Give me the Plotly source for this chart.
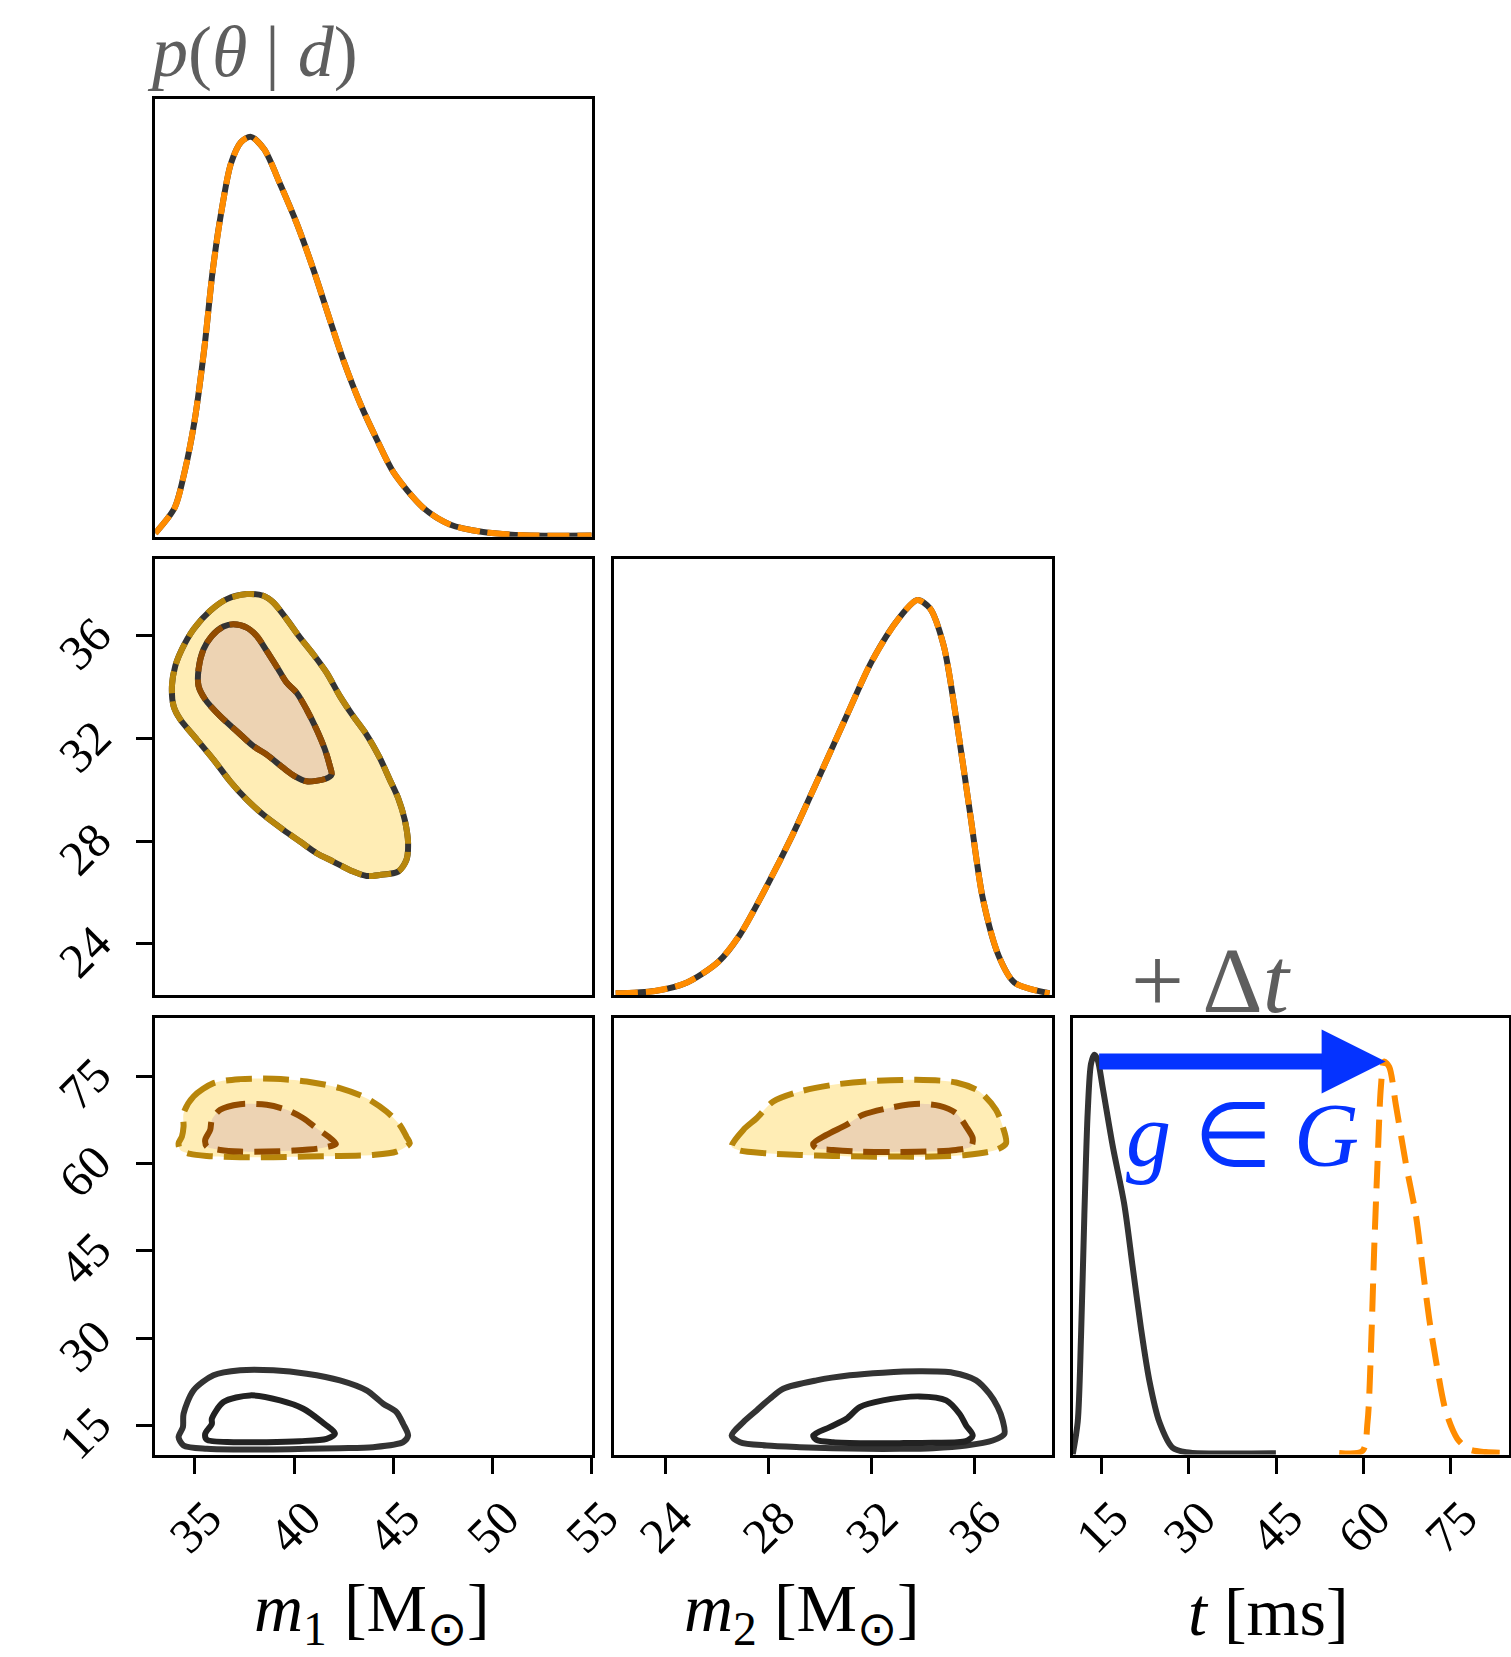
import plotly.graph_objects as go

# ---------------- data ----------------
m1_range = [33, 55]
m2_range = [22, 39]
t_range = [10, 85]
m1_ticks = [35, 40, 45, 50, 55]
m2_ticks = [24, 28, 32, 36]
t_ticks = [15, 30, 45, 60, 75]

# 1D marginal of m1 (original and transformed coincide)
m1_grid = [33.0, 33.97, 34.47, 34.97, 35.48, 35.89, 36.31, 36.81, 37.32, 37.82, 38.49, 39.32,
           40.16, 41.00, 41.83, 42.50, 43.34, 44.18, 45.01, 46.52, 47.85, 49.53, 51.54, 55.0]
m1_density = [0.009, 0.072, 0.161, 0.287, 0.475, 0.664, 0.807, 0.933, 0.987, 1.0, 0.969, 0.879,
              0.780, 0.664, 0.538, 0.439, 0.332, 0.242, 0.161, 0.072, 0.031, 0.012, 0.004, 0.003]

# 1D marginal of m2
m2_grid = [22.08, 23.60, 24.83, 26.07, 26.89, 27.91, 28.94, 29.97, 30.99, 32.02, 33.05, 33.79,
           34.28, 34.81, 35.30, 35.84, 36.33, 36.95, 37.56, 38.92]
m2_density = [0.005, 0.011, 0.032, 0.085, 0.152, 0.272, 0.405, 0.552, 0.699, 0.845, 0.952, 1.0,
              0.979, 0.885, 0.699, 0.459, 0.245, 0.099, 0.032, 0.005]

# 1D marginal of t: original (black) and shifted (orange)
t_grid_orig = [10.02, 10.88, 11.45, 12.02, 12.60, 13.17, 13.74, 14.31, 15.17, 16.89, 18.89, 20.32,
               21.76, 23.19, 24.90, 27.19, 29.48, 44.94]
t_density_orig = [0.0, 0.082, 0.297, 0.599, 0.858, 0.978, 1.0, 0.987, 0.918, 0.772, 0.625, 0.470,
                  0.315, 0.185, 0.082, 0.017, 0.006, 0.003]
t_grid_shift = [55.82, 59.83, 60.69, 61.26, 61.83, 62.40, 62.98, 63.55, 64.41, 65.55, 67.27, 68.99,
                70.13, 71.27, 72.42, 74.14, 76.14, 78.15, 81.01, 84.73]
t_density_shift = [0.004, 0.009, 0.082, 0.254, 0.513, 0.728, 0.918, 0.983, 0.970, 0.875, 0.728, 0.599,
                   0.470, 0.341, 0.237, 0.108, 0.039, 0.013, 0.006, 0.004]

# group action arrow (t from, t to, density level)
arrow_t_from = 14.3
arrow_t_to = 63.8
arrow_level = 0.983

# 2D credible contours: m1 vs m2 (original and transformed coincide)
m1m2_outer_m1 = [37.611, 38.450, 38.953, 39.623, 40.294, 40.965, 41.636, 42.306, 42.977, 43.648, 44.318,
                 44.821, 45.241, 45.576, 45.744, 45.660, 45.241, 44.318, 43.648, 42.977, 41.971, 41.132,
                 40.294, 39.456, 38.450, 37.611, 36.773, 35.934, 35.096, 34.258, 33.922, 33.838, 34.006,
                 34.341, 34.928, 35.767, 36.605]
m1m2_outer_m2 = [37.632, 37.567, 37.306, 36.655, 35.939, 35.287, 34.571, 33.659, 32.877, 32.161, 31.249,
                 30.402, 29.686, 28.839, 27.927, 27.276, 26.820, 26.689, 26.650, 26.820, 27.211, 27.536,
                 27.992, 28.448, 29.034, 29.621, 30.337, 31.184, 31.965, 32.747, 33.268, 34.050, 34.831,
                 35.483, 36.264, 36.981, 37.437]
m1m2_inner_m1 = [36.941, 37.611, 38.114, 38.617, 39.204, 39.623, 40.126, 40.629, 41.132, 41.552, 41.803,
                 41.887, 41.552, 40.629, 40.043, 39.456, 38.617, 37.947, 37.108, 36.270, 35.515, 35.180,
                 35.180, 35.431, 35.850, 36.437]
m1m2_inner_m2 = [36.460, 36.329, 36.004, 35.417, 34.701, 34.180, 33.789, 33.138, 32.356, 31.575, 30.923,
                 30.597, 30.428, 30.337, 30.532, 30.858, 31.379, 31.705, 32.291, 32.877, 33.529, 34.050,
                 34.701, 35.483, 36.004, 36.369]

# m1 vs t: shifted (gold, dashed) and original (black)
m1t_shift_outer_m1 = [34.425, 34.928, 35.934, 37.276, 38.953, 40.629, 42.306, 43.648, 44.654, 45.324,
                      45.660, 45.828, 45.157, 43.983, 42.306, 40.629, 38.953, 37.276, 35.599, 34.761,
                      34.258, 34.174, 34.341, 34.425]
m1t_shift_outer_t = [68.646, 71.515, 73.810, 74.499, 74.556, 74.097, 72.950, 71.228, 68.933, 66.637,
                     64.629, 63.481, 62.047, 61.473, 61.301, 61.186, 61.071, 61.071, 61.301, 61.645,
                     62.334, 63.481, 64.629, 66.350]
m1t_shift_inner_m1 = [35.851, 36.270, 37.276, 38.617, 39.623, 40.462, 41.132, 41.719, 42.105, 41.300,
                      39.959, 38.617, 37.276, 36.270, 35.599, 35.515, 35.767]
m1t_shift_inner_t = [67.498, 69.220, 70.195, 70.080, 69.220, 67.785, 66.064, 64.629, 63.367, 62.621,
                     62.219, 62.047, 62.047, 62.334, 62.908, 64.055, 65.777]
m1t_orig_outer_m1 = [34.425, 34.928, 35.934, 37.276, 38.953, 40.629, 42.306, 43.648, 44.486, 45.157,
                     45.492, 45.744, 45.492, 43.983, 42.306, 40.629, 38.953, 37.276, 35.599, 34.425,
                     34.174, 34.392]
m1t_orig_outer_t = [16.999, 21.018, 23.600, 24.461, 24.461, 23.887, 22.739, 21.018, 18.723, 17.288,
                    15.280, 13.272, 12.124, 11.263, 11.091, 10.976, 10.861, 10.861, 10.976, 11.550,
                    12.984, 14.706]
m1t_orig_inner_m1 = [35.851, 36.437, 37.779, 39.288, 40.462, 41.300, 42.055, 41.635, 40.294, 38.617,
                     36.941, 35.599, 35.515, 35.851]
m1t_orig_inner_t = [16.140, 19.009, 20.157, 19.296, 17.861, 15.853, 13.558, 12.697, 12.296, 12.124,
                    12.124, 12.525, 13.558, 15.280]

# m2 vs t: shifted (gold, dashed) and original (black)
m2t_shift_outer_m2 = [26.582, 27.034, 27.550, 28.196, 29.228, 30.519, 31.810, 33.746, 35.295, 36.199,
                      36.844, 37.102, 37.231, 36.844, 35.682, 34.392, 33.101, 31.810, 30.519, 29.228,
                      27.938, 26.905]
m2t_shift_outer_t = [62.907, 65.777, 67.785, 70.654, 72.376, 73.523, 74.097, 74.384, 73.925, 72.376,
                     69.220, 66.350, 63.481, 62.334, 61.473, 61.186, 61.186, 61.186, 61.301, 61.473,
                     61.760, 62.219]
m2t_shift_inner_m2 = [29.745, 30.261, 31.036, 31.681, 32.843, 33.875, 34.650, 35.295, 35.682, 35.940,
                      35.876, 35.295, 34.134, 32.843, 31.552, 30.519, 29.874]
m2t_shift_inner_t = [63.367, 64.916, 66.637, 68.359, 69.679, 70.253, 69.909, 68.646, 66.350, 64.342,
                     62.907, 62.334, 62.047, 61.989, 62.047, 62.334, 62.621]
m2t_orig_outer_m2 = [26.582, 27.034, 27.550, 28.067, 28.583, 29.874, 31.165, 32.456, 33.875, 35.166,
                     36.070, 36.586, 36.909, 37.102, 37.166, 36.715, 35.682, 34.392, 33.101, 31.810,
                     30.519, 29.228, 27.938, 26.905]
m2t_orig_outer_t = [13.272, 15.567, 17.575, 19.584, 21.305, 22.739, 23.600, 24.059, 24.289, 24.059,
                    22.739, 20.444, 18.149, 15.853, 13.558, 12.411, 11.550, 11.091, 10.976, 10.976,
                    11.091, 11.263, 11.550, 12.124]
m2t_orig_inner_m2 = [29.745, 30.390, 31.036, 31.552, 32.456, 33.875, 34.908, 35.424, 35.682, 35.940,
                     35.682, 34.392, 33.101, 31.810, 30.519, 29.874]
m2t_orig_inner_t = [13.272, 14.706, 16.140, 18.149, 19.296, 19.985, 19.296, 16.999, 14.991, 13.272,
                    12.297, 12.009, 11.952, 11.952, 12.124, 12.525]

# ---------------- styling ----------------
FONT = "Liberation Serif"
W, H = 1511, 1657
ORANGE = "#FF8C00"
DARK = "#333333"
DARK_IN = "#222222"
GOLD = "#B8860B"
BROWN = "#934C00"
FILL_OUT = "#FFEDB5"
FILL_IN = "#EDD3B3"
BLUE = "#0533FF"
GRAY = "#5E5E5E"
LW = 6

cols = [(155.3, 591.7), (613.6, 1051.6), (1072.6, 1509.0)]
rows = [(99.3, 536.8), (559.0, 995.3), (1018.0, 1454.5)]


def xdom(c):
    return [cols[c][0] / W, cols[c][1] / W]


def ydom(r):
    return [1 - rows[r][1] / H, 1 - rows[r][0] / H]


def closed(a):
    return list(a) + [a[0]]


def curve(x, y, xa, ya, color, width=LW, dash="solid"):
    return go.Scatter(x=x, y=y, xaxis=xa, yaxis=ya, mode="lines",
                      line=dict(color=color, width=width, dash=dash, shape="spline", smoothing=0.8),
                      hoverinfo="skip", showlegend=False)


def region(x, y, xa, ya, fillcolor):
    return go.Scatter(x=closed(x), y=closed(y), xaxis=xa, yaxis=ya, mode="lines", fill="toself",
                      fillcolor=fillcolor, line=dict(width=0, shape="spline", smoothing=0.8),
                      hoverinfo="skip", showlegend=False)


def outline(x, y, xa, ya, color, width=LW, dash="solid"):
    return curve(closed(x), closed(y), xa, ya, color, width, dash)


GOLD_DASH = "26px,11px"
traces = []

# row 1: m1 marginal
traces.append(curve(m1_grid, m1_density, "x", "y", DARK))
traces.append(curve(m1_grid, m1_density, "x", "y", ORANGE, dash="22px,8px"))

# row 2, col 1: m1-m2 contours (coincident)
traces.append(region(m1m2_outer_m1, m1m2_outer_m2, "x2", "y2", FILL_OUT))
traces.append(region(m1m2_inner_m1, m1m2_inner_m2, "x2", "y2", FILL_IN))
traces.append(outline(m1m2_outer_m1, m1m2_outer_m2, "x2", "y2", DARK))
traces.append(outline(m1m2_inner_m1, m1m2_inner_m2, "x2", "y2", DARK))
traces.append(outline(m1m2_outer_m1, m1m2_outer_m2, "x2", "y2", GOLD, dash="22px,8px"))
traces.append(outline(m1m2_inner_m1, m1m2_inner_m2, "x2", "y2", BROWN, dash="22px,8px"))

# row 2, col 2: m2 marginal
traces.append(curve(m2_grid, m2_density, "x3", "y3", DARK))
traces.append(curve(m2_grid, m2_density, "x3", "y3", ORANGE, dash="22px,8px"))

# row 3, col 1: m1-t
traces.append(region(m1t_shift_outer_m1, m1t_shift_outer_t, "x4", "y4", FILL_OUT))
traces.append(region(m1t_shift_inner_m1, m1t_shift_inner_t, "x4", "y4", FILL_IN))
traces.append(outline(m1t_shift_outer_m1, m1t_shift_outer_t, "x4", "y4", GOLD, dash=GOLD_DASH))
traces.append(outline(m1t_shift_inner_m1, m1t_shift_inner_t, "x4", "y4", BROWN, dash=GOLD_DASH))
traces.append(outline(m1t_orig_outer_m1, m1t_orig_outer_t, "x4", "y4", DARK))
traces.append(outline(m1t_orig_inner_m1, m1t_orig_inner_t, "x4", "y4", DARK_IN))

# row 3, col 2: m2-t
traces.append(region(m2t_shift_outer_m2, m2t_shift_outer_t, "x5", "y5", FILL_OUT))
traces.append(region(m2t_shift_inner_m2, m2t_shift_inner_t, "x5", "y5", FILL_IN))
traces.append(outline(m2t_shift_outer_m2, m2t_shift_outer_t, "x5", "y5", GOLD, dash=GOLD_DASH))
traces.append(outline(m2t_shift_inner_m2, m2t_shift_inner_t, "x5", "y5", BROWN, dash=GOLD_DASH))
traces.append(outline(m2t_orig_outer_m2, m2t_orig_outer_t, "x5", "y5", DARK))
traces.append(outline(m2t_orig_inner_m2, m2t_orig_inner_t, "x5", "y5", DARK_IN))

# row 3, col 3: t marginal
traces.append(curve(t_grid_orig, t_density_orig, "x6", "y6", DARK))
traces.append(curve(t_grid_shift, t_density_shift, "x6", "y6", ORANGE, dash="28px,13px"))

fig = go.Figure(traces)

TICKFONT = dict(family=FONT, size=49, color="black")


def axis(domain, rng, anchor, tickvals=None, is_x=True):
    d = dict(domain=domain, range=rng, anchor=anchor, showline=True, mirror=True,
             linecolor="black", linewidth=3, showgrid=False, zeroline=False, fixedrange=True,
             automargin=False)
    if tickvals:
        d.update(tickmode="array", tickvals=tickvals, ticktext=[str(v) for v in tickvals],
                 ticks="outside", ticklen=16, tickwidth=3, tickcolor="black",
                 tickangle=-45, tickfont=TICKFONT, showticklabels=True)
        if is_x:
            d.update(ticklabelshift=12, ticklabelstandoff=-4)
        else:
            d.update(ticklabelshift=-8, ticklabelstandoff=30)
    else:
        d.update(showticklabels=False, ticks="")
    return d


fig.update_layout(
    width=W, height=H, autosize=False, margin=dict(l=0, r=0, t=0, b=0, pad=0, autoexpand=False),
    paper_bgcolor="white", plot_bgcolor="white", showlegend=False,
    xaxis=axis(xdom(0), m1_range, "y"),
    yaxis=axis(ydom(0), [0, 1.094], "x", is_x=False),
    xaxis2=axis(xdom(0), m1_range, "y2"),
    yaxis2=axis(ydom(1), m2_range, "x2", m2_ticks, is_x=False),
    xaxis3=axis(xdom(1), m2_range, "y3"),
    yaxis3=axis(ydom(1), [0, 1.104], "x3", is_x=False),
    xaxis4=axis(xdom(0), m1_range, "y4", m1_ticks),
    yaxis4=axis(ydom(2), t_range, "x4", t_ticks, is_x=False),
    xaxis5=axis(xdom(1), m2_range, "y5", m2_ticks),
    yaxis5=axis(ydom(2), t_range, "x5", is_x=False),
    xaxis6=axis(xdom(2), t_range, "y6", t_ticks),
    yaxis6=axis(ydom(2), [0, 1.092], "x6", is_x=False),
)

ann = []
# group action arrow
ann.append(dict(x=arrow_t_to, y=arrow_level, ax=arrow_t_from, ay=arrow_level,
                xref="x6", yref="y6", axref="x6", ayref="y6", text="", showarrow=True,
                arrowhead=2, arrowwidth=16, arrowsize=0.8, arrowcolor=BLUE, standoff=0))
# texts
ann.append(dict(x=252 / W, y=1 - 52 / H, xref="paper", yref="paper", showarrow=False,
                text="<i>p</i>(<i>θ</i> | <i>d</i>)", xanchor="center", yanchor="middle",
                font=dict(family=FONT, size=72, color=GRAY)))
ann.append(dict(x=1211 / W, y=1 - 980 / H, xref="paper", yref="paper", showarrow=False,
                text="+ Δ<i>t</i>", xanchor="center", yanchor="middle",
                font=dict(family=FONT, size=94, color=GRAY)))
ann.append(dict(x=1242 / W, y=1 - 1135 / H, xref="paper", yref="paper", showarrow=False,
                text="<i>g</i> ∈ <i>G</i>", xanchor="center", yanchor="middle",
                font=dict(family=FONT, size=90, color=BLUE)))
# axis titles
for cx, txt in [(372, "<i>m</i><sub>1</sub> [M<sub>⊙</sub>]"),
                (802, "<i>m</i><sub>2</sub> [M<sub>⊙</sub>]"),
                (1268, "<i>t</i> [ms]")]:
    ann.append(dict(x=cx / W, y=1 - 1612 / H, xref="paper", yref="paper", showarrow=False,
                    text=txt, xanchor="center", yanchor="middle",
                    font=dict(family=FONT, size=68, color="black")))
fig.update_layout(annotations=ann)

post = ("document.documentElement.style.margin='0';document.body.style.margin='0';"
        "document.body.style.padding='0';document.body.style.overflow='hidden';"
        "document.documentElement.style.overflow='hidden';"
        "Plotly.relayout('{plot_id}', {width: 1511, height: 1657, autosize: false});")

fig.write_html("out.html", post_script=post)
